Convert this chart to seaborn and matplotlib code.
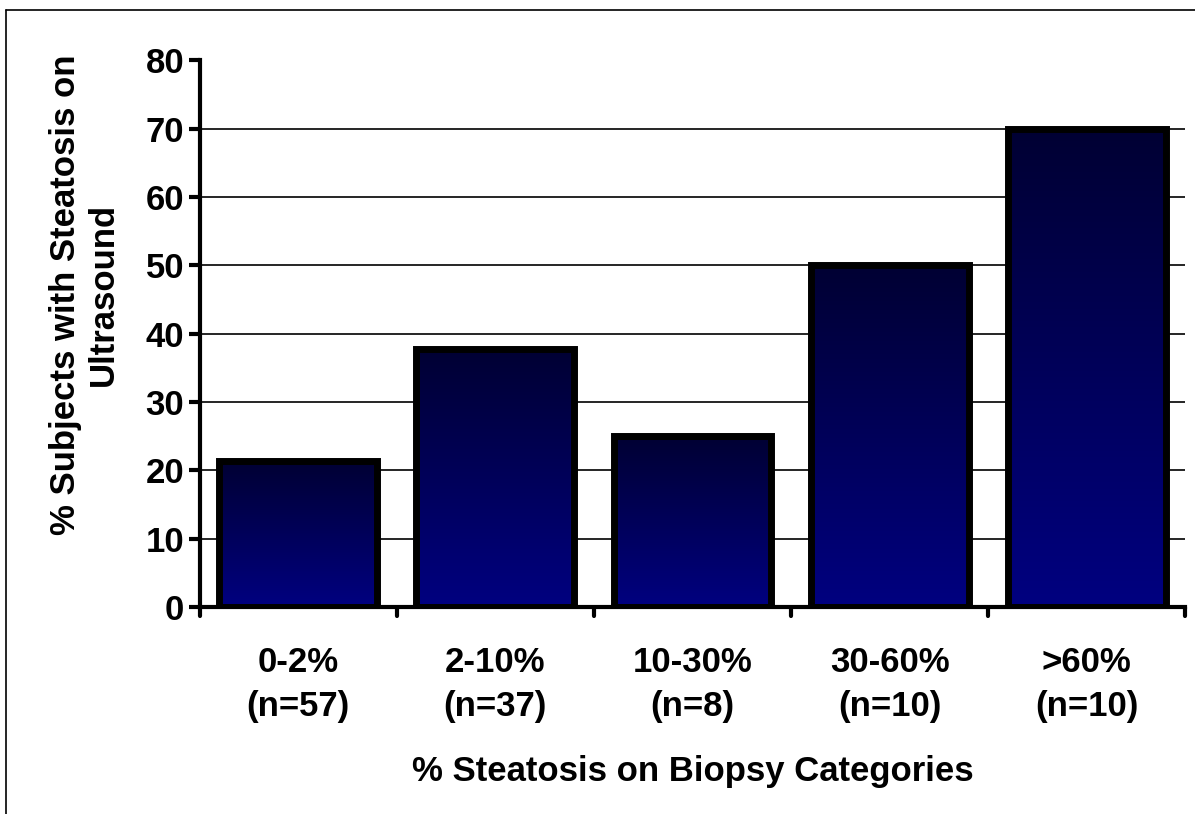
import numpy as np
import pandas as pd
import seaborn as sns
import matplotlib.pyplot as plt
from matplotlib.colors import LinearSegmentedColormap
from matplotlib.lines import Line2D

sns.set_style('white')
plt.rcParams['font.family'] = ['Liberation Sans', 'DejaVu Sans']
plt.rcParams['font.weight'] = 'bold'
plt.rcParams['text.color'] = 'black'
plt.rcParams['axes.labelcolor'] = 'black'
plt.rcParams['xtick.color'] = 'black'
plt.rcParams['ytick.color'] = 'black'

categories = ['0-2%\n(n=57)', '2-10%\n(n=37)', '10-30%\n(n=8)', '30-60%\n(n=10)', '>60%\n(n=10)']
pct_us = [21.4, 37.8, 25.0, 50.0, 70.0]
y_ticks = [0, 10, 20, 30, 40, 50, 60, 70, 80]

df = pd.DataFrame({'cat': categories, 'pct': pct_us})

fig = plt.figure(figsize=(11.95, 8.14), dpi=100)
ax = fig.add_axes([0.167, 0.254, 0.825, 0.672])

sns.barplot(data=df, x='cat', y='pct', color='#000060', width=0.8,
            edgecolor='black', linewidth=5, saturation=1, ax=ax)

# vertical gradient fill clipped to each bar
grad = LinearSegmentedColormap.from_list('navy', ['#000033', '#000080'])
for p in ax.patches:
    x0, y0 = p.get_x(), p.get_y()
    w, h = p.get_width(), p.get_height()
    im = ax.imshow(np.linspace(0, 1, 256).reshape(-1, 1), cmap=grad, aspect='auto',
                   extent=[x0, x0 + w, y0, y0 + h], origin='upper', zorder=p.get_zorder() - 0.01)
    im.set_clip_path(p)
    p.set_facecolor('none')

ax.set_xlim(-0.5, len(categories) - 0.5)
ax.set_ylim(0, 80)
ax.set_yticks(y_ticks)
ax.set_yticklabels([str(t) for t in y_ticks], fontsize=25, fontweight='bold')
ax.set_xticks(np.arange(len(categories)))
ax.set_xticklabels(categories, fontsize=25, fontweight='bold', linespacing=1.43)
ax.tick_params(axis='x', length=0, pad=28)
ax.tick_params(axis='y', length=8, width=3, direction='out', pad=3, left=True)

# category boundary ticks on x axis
for xb in np.arange(-0.5, len(categories), 1.0):
    ax.add_line(Line2D([xb, xb], [0, -1.3], color='black', lw=3, clip_on=False))

for g in y_ticks[1:-1]:
    ax.axhline(g, color='black', lw=1.2, zorder=0)

for s in ['top', 'right']:
    ax.spines[s].set_visible(False)
for s in ['left', 'bottom']:
    ax.spines[s].set_linewidth(3)
    ax.spines[s].set_color('black')

ax.set_xlabel('% Steatosis on Biopsy Categories', fontsize=25, fontweight='bold', labelpad=23)
ax.set_ylabel('')
fig.text(0.071, 0.638, '% Subjects with Steatosis on\nUltrasound', rotation=90,
         ha='center', va='center', multialignment='center', fontsize=25,
         fontweight='bold', linespacing=1.19)

# figure frame (top and left edges visible)
fig.add_artist(Line2D([0.005, 1.0], [0.988, 0.988], color='black', lw=1.2, transform=fig.transFigure))
fig.add_artist(Line2D([0.005, 0.005], [0.0, 0.988], color='black', lw=1.2, transform=fig.transFigure))

plt.savefig('out.png', dpi=100)
